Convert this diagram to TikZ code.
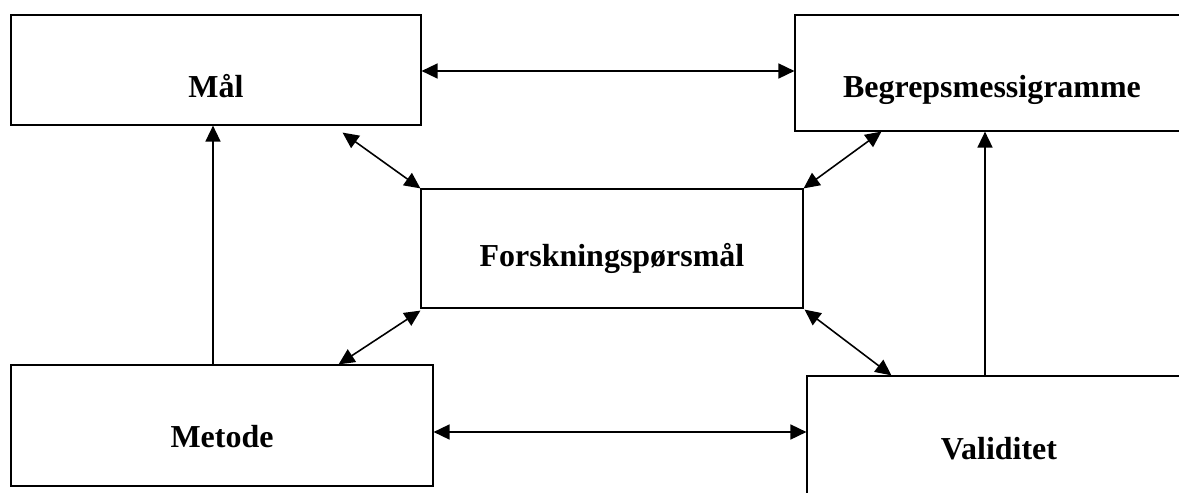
\documentclass[tikz,border=0pt]{standalone}
\usepackage{fontspec}
\setmainfont{Liberation Serif}
\usepackage{tikz}
\usetikzlibrary{positioning,arrows.meta,calc}

\begin{document}
\begin{tikzpicture}[
  x=0.02cm, y=-0.02cm,
  box/.style={rectangle, draw, line width=0.7pt, inner sep=0pt},
  lbl/.style={anchor=base, inner sep=0pt, font=\fontsize{18.2}{20}\selectfont\bfseries},
  arrow/.style={{Triangle[length=0.32cm,width=0.3cm]}-{Triangle[length=0.32cm,width=0.3cm]}, line width=0.9pt},
  uparrow/.style={-{Triangle[length=0.32cm,width=0.3cm]}, line width=0.9pt}
]
\useasboundingbox (0,0) rectangle (1179,493);

% Boxes
\node[box, minimum width=8.2cm, minimum height=2.2cm] (mal) at (216,70) {};
\node[box, minimum width=7.88cm, minimum height=2.32cm] (begr) at (992,73) {};
\node[box, minimum width=7.64cm, minimum height=2.38cm] (forsk) at (612,248.5) {};
\node[box, minimum width=8.44cm, minimum height=2.42cm] (metode) at (222,425.5) {};
\node[box, minimum width=7.68cm, minimum height=2.48cm] (valid) at (999,438) {};

% Texts
\node[lbl] (malT) at (216,98) {Mål};
\node[lbl] (begrT) at (992,98) {Begrepsmessigramme};
\node[lbl] (forskT) at (612,266) {Forskningspørsmål};
\node[lbl] (metodeT) at (222,447) {Metode};
\node[lbl] (validT) at (999,459) {Validitet};

% Arrows
\draw[arrow] ($(mal.east)+(0,1)$) coordinate (a1) -- (a1 -| begr.west);
\draw[arrow] ($(mal.south east)+(-79,7)$) -- (forsk.north west);
\draw[arrow] ($(begr.south west)+(87,0)$) -- (forsk.north east);
\draw[arrow] ($(metode.north east)+(-95,0)$) -- ($(forsk.south west)+(0,2)$);
\draw[arrow] ($(forsk.south east)+(1,1)$) -- ($(valid.north west)+(85,0)$);
\draw[arrow] ($(metode.east)+(0,6.5)$) coordinate (a2) -- (a2 -| valid.west);
\draw[uparrow] ($(metode.north)+(-9,0)$) coordinate (a3) -- (a3 |- mal.south);
\draw[uparrow] ($(valid.north)+(-14,0)$) coordinate (a4) -- (a4 |- begr.south);

\end{tikzpicture}
\end{document}
